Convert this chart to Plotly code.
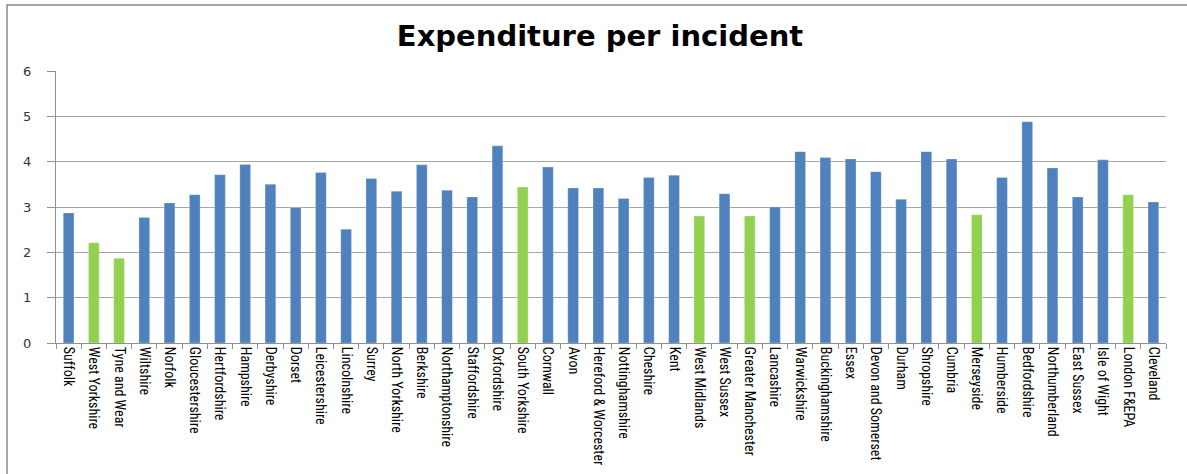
import plotly.graph_objects as go

categories = [
    "Suffolk", "West Yorkshire", "Tyne and Wear", "Wiltshire", "Norfolk",
    "Gloucestershire", "Hertfordshire", "Hampshire", "Derbyshire", "Dorset",
    "Leicestershire", "Lincolnshire", "Surrey", "North Yorkshire", "Berkshire",
    "Northamptonshire", "Staffordshire", "Oxfordshire", "South Yorkshire", "Cornwall",
    "Avon", "Hereford & Worcester", "Nottinghamshire", "Cheshire", "Kent",
    "West Midlands", "West Sussex", "Greater Manchester", "Lancashire", "Warwickshire",
    "Buckinghamshire", "Essex", "Devon and Somerset", "Durham", "Shropshire",
    "Cumbria", "Merseyside", "Humberside", "Bedfordshire", "Northumberland",
    "East Sussex", "Isle of Wight", "London F&EPA", "Cleveland",
]

expenditure = [
    2.87, 2.21, 1.87, 2.77, 3.09,
    3.27, 3.71, 3.94, 3.50, 2.99,
    3.76, 2.51, 3.63, 3.35, 3.93,
    3.37, 3.22, 4.35, 3.44, 3.88,
    3.42, 3.42, 3.19, 3.65, 3.70,
    2.80, 3.29, 2.80, 3.00, 4.22,
    4.09, 4.06, 3.78, 3.17, 4.22,
    4.06, 2.83, 3.65, 4.88, 3.86,
    3.22, 4.04, 3.27, 3.11,
]

metropolitan = [
    "West Yorkshire", "Tyne and Wear", "South Yorkshire", "West Midlands",
    "Greater Manchester", "Merseyside", "London F&EPA",
]

y_ticks = [0, 1, 2, 3, 4, 5, 6]

BLUE = "#4F81BD"
GREEN = "#92D050"
colors = [GREEN if c in metropolitan else BLUE for c in categories]

fig = go.Figure(
    go.Bar(
        x=categories,
        y=expenditure,
        marker=dict(color=colors, line=dict(color="rgba(255,255,255,0.5)", width=0.5)),
        hoverinfo="x+y",
    )
)

W, H = 1187, 474
ml, mr, mt, mb = 56, 21, 71, 131
pw, ph = W - ml - mr, H - mt - mb

fig.update_layout(
    width=W,
    height=H,
    margin=dict(l=ml, r=mr, t=mt, b=mb, pad=0, autoexpand=False),
    paper_bgcolor="white",
    plot_bgcolor="white",
    bargap=0.575,
    showlegend=False,
    title=dict(
        text="<b>Expenditure per incident</b>",
        x=600 / W,
        xref="container",
        xanchor="center",
        y=1 - 36 / H,
        yref="container",
        yanchor="middle",
        font=dict(family="DejaVu Sans", size=29, color="#000000"),
    ),
    xaxis=dict(
        type="category",
        automargin=False,
        tickangle=90,
        ticks="outside",
        tickson="boundaries",
        ticklen=5,
        tickcolor="#909090",
        showline=True,
        linecolor="#909090",
        linewidth=1,
        showgrid=False,
        tickfont=dict(family="Liberation Sans Narrow, Roboto Condensed, Arial Narrow, sans-serif",
                      size=14, color="#000000"),
    ),
    yaxis=dict(
        range=[0, 6],
        automargin=False,
        tickvals=y_ticks,
        showticklabels=False,
        ticks="outside",
        ticklen=8,
        tickcolor="#909090",
        showline=True,
        linecolor="#909090",
        linewidth=1,
        showgrid=True,
        gridcolor="#a6a6a6",
        gridwidth=1,
        zeroline=False,
    ),
)

# y tick labels placed further from the axis, as in the reference
for v in y_ticks:
    fig.add_annotation(
        x=(33 - ml) / pw, xref="paper", xanchor="right",
        y=v, yref="y", yanchor="middle",
        text=str(v), showarrow=False,
        font=dict(family="DejaVu Sans", size=13, color="#333333"),
    )

# outer chart border (left and top edges visible in frame)
fig.add_shape(
    type="rect",
    xref="paper", yref="paper",
    x0=(7 - ml) / pw, x1=(W + 5 - ml) / pw,
    y0=-(mb + 20) / ph, y1=1 + (mt - 5) / ph,
    line=dict(color="#8c8c8c", width=1.5),
    fillcolor="rgba(0,0,0,0)",
    layer="below",
)

fig.write_html("out.html", config={"displayModeBar": False},
               post_script="document.body.style.margin='0';")
